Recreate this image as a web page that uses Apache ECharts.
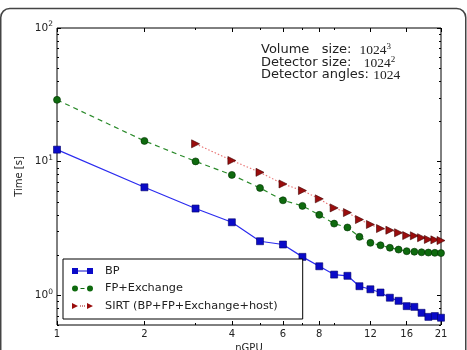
<!DOCTYPE html>
<html>
<head>
<meta charset="utf-8">
<script src="https://cdn.jsdelivr.net/npm/echarts@6/dist/echarts.min.js"></script>
<style>
  html, body { margin: 0; padding: 0; background: #fff; }
  #chart { width: 467px; height: 350px; }
</style>
</head>
<body>
<div id="chart"></div>
<script>
// number of GPUs
const nGPU = [1, 2, 3, 4, 5, 6, 7, 8, 9, 10, 11, 12, 13, 14, 15, 16, 17, 18, 19, 20, 21]
const sirtGPU = [3, 4, 5, 6, 7, 8, 9, 10, 11, 12, 13, 14, 15, 16, 17, 18, 19, 20, 21]
// time [s]
const bpTime = [12.3, 6.43, 4.46, 3.52, 2.54, 2.40, 1.94, 1.65, 1.43, 1.40, 1.17, 1.11, 1.05, 0.96, 0.91, 0.83, 0.82, 0.74, 0.69, 0.70, 0.68]
const fpTime = [29.0, 14.3, 10.05, 7.96, 6.36, 5.14, 4.67, 4.00, 3.44, 3.22, 2.74, 2.47, 2.37, 2.27, 2.20, 2.14, 2.12, 2.10, 2.09, 2.08, 2.07]
const sirtTime = [13.6, 10.2, 8.32, 6.81, 6.08, 5.27, 4.51, 4.16, 3.69, 3.39, 3.16, 3.07, 2.94, 2.80, 2.79, 2.70, 2.62, 2.60, 2.57]
// ticks
const xMajorTicks = [1, 2, 4, 6, 8, 12, 16, 21]
const xMinorTicks = [3, 5, 7, 9]
const yMajorTicks = [1, 10, 100]
const yMinorTicks = [0.6, 0.7, 0.8, 0.9, 2, 3, 4, 5, 6, 7, 8, 9, 20, 30, 40, 50, 60, 70, 80, 90]

const FONT = 'DejaVu Sans'
const pairs = (xs, ys) => xs.map((x, i) => [x, ys[i]])

const xAx = (pos, ticks, len, extra) => Object.assign({
  type: 'log', logBase: 2, min: 1, max: 21, position: pos, gridIndex: 0,
  axisLine: { show: false },
  axisTick: { show: true, inside: true, length: len, customValues: ticks, lineStyle: { color: '#000' } },
  axisLabel: { show: false },
  splitLine: { show: false }
}, extra || {})
const yAx = (pos, ticks, len, extra) => Object.assign({
  type: 'log', logBase: 10, min: 0.6, max: 100, position: pos, gridIndex: 0,
  axisLine: { show: false },
  axisTick: { show: true, inside: true, length: len, customValues: ticks, lineStyle: { color: '#000' } },
  axisLabel: { show: false },
  splitLine: { show: false }
}, extra || {})

const chart = echarts.init(document.getElementById('chart'))

const option = {
  animation: false,
  textStyle: { fontFamily: FONT },
  grid: {
    left: 57, top: 28, right: 26, bottom: 25, outerBoundsMode: 'none', containLabel: false,
    show: true, borderColor: '#000', borderWidth: 1, backgroundColor: '#fff'
  },
  xAxis: [
    xAx('bottom', xMajorTicks, 4, {
      name: 'nGPU', nameLocation: 'middle', nameGap: 16,
      nameTextStyle: { fontSize: 10, color: '#222', fontFamily: FONT },
      axisLabel: {
        show: true, customValues: xMajorTicks, margin: 4, fontSize: 10, color: '#222', fontFamily: FONT,
        formatter: v => String(v)
      }
    }),
    xAx('bottom', xMinorTicks, 2),
    xAx('top', xMajorTicks, 4),
    xAx('top', xMinorTicks, 2)
  ],
  yAxis: [
    yAx('left', yMajorTicks, 4, {
      name: 'Time [s]', nameLocation: 'middle', nameGap: 27, nameRotate: 90,
      nameTextStyle: { fontSize: 10, color: '#222', fontFamily: FONT },
      axisLabel: {
        show: true, customValues: yMajorTicks, margin: 4, color: '#222', fontFamily: FONT,
        formatter: v => '{b|10}{s|' + Math.round(Math.log10(v)) + '}',
        rich: {
          b: { fontSize: 10.5, fontFamily: FONT, color: '#222' },
          s: { fontSize: 7.5, fontFamily: FONT, color: '#222', verticalAlign: 'top', padding: [0, 0, 7, 0] }
        }
      }
    }),
    yAx('left', yMinorTicks, 2),
    yAx('right', yMajorTicks, 4),
    yAx('right', yMinorTicks, 2)
  ],
  legend: {
    orient: 'vertical', left: 63, top: 259,
    backgroundColor: '#fff', borderColor: '#000', borderWidth: 1, borderRadius: 0,
    padding: [5, 25, 6, 9], itemGap: 3.5, itemWidth: 21, itemHeight: 7,
    itemStyle: { borderWidth: 0 },
    textStyle: { fontSize: 11.3, fontFamily: FONT, color: '#222', lineHeight: 14, padding: [0, 0, 0, 7] },
    data: [
      { name: 'BP', icon: 'path://M0,0.5H6V6.5H0Z M6,3H15V4H6Z M15,0.5H21V6.5H15Z' },
      { name: 'FP+Exchange', icon: 'path://M0,3.5A3,3 0 1 1 6,3.5A3,3 0 1 1 0,3.5Z M8.5,3H12.5V4H8.5Z M15,3.5A3,3 0 1 1 21,3.5A3,3 0 1 1 15,3.5Z' },
      { name: 'SIRT (BP+FP+Exchange+host)', icon: 'path://M0,0.5L6,3.5L0,6.5Z M8,3H9V4H8Z M10,3H11V4H10Z M12,3H13V4H12Z M15,0.5L21,3.5L15,6.5Z' }
    ]
  },
  graphic: [
    {
      type: 'rect', silent: true, z: 100,
      shape: { x: 0.75, y: 8.5, width: 465, height: 370, r: 9 },
      style: { fill: 'none', stroke: '#444', lineWidth: 1.5 }
    },
    {
      type: 'group', left: 261, top: 42, z: 50,
      children: [
        { type: 'text', x: 0, y: 0, style: { text: 'Volume   size:  {m|1024}{s|3}', font: '13px "DejaVu Sans"', fill: '#222',
          rich: { m: { fontFamily: 'Liberation Serif', fontSize: 13.5 }, s: { fontFamily: 'Liberation Serif', fontSize: 9, verticalAlign: 'top', padding: [0, 0, 7, 0] } } } },
        { type: 'text', x: 0, y: 13, style: { text: 'Detector size:   {m|1024}{s|2}', font: '13px "DejaVu Sans"', fill: '#222',
          rich: { m: { fontFamily: 'Liberation Serif', fontSize: 13.5 }, s: { fontFamily: 'Liberation Serif', fontSize: 9, verticalAlign: 'top', padding: [0, 0, 7, 0] } } } },
        { type: 'text', x: 0, y: 26, style: { text: 'Detector angles: {m|1024}', font: '13px "DejaVu Sans"', fill: '#222',
          rich: { m: { fontFamily: 'Liberation Serif', fontSize: 13.5 } } } }
      ]
    }
  ],
  series: [
    {
      name: 'BP', type: 'line', data: pairs(nGPU, bpTime),
      symbol: 'rect', symbolSize: 7,
      lineStyle: { color: '#2b2bef', width: 1.2, type: 'solid' },
      itemStyle: { color: '#0a0ac8', borderColor: '#00006a', borderWidth: 0.6 },
      z: 3
    },
    {
      name: 'FP+Exchange', type: 'line', data: pairs(nGPU, fpTime),
      symbol: 'circle', symbolSize: 7,
      lineStyle: { color: '#2a8a2a', width: 1.2, type: [5, 4] },
      itemStyle: { color: '#0e6a0e', borderColor: '#003000', borderWidth: 0.6 },
      z: 3
    },
    {
      name: 'SIRT (BP+FP+Exchange+host)', type: 'line', data: pairs(sirtGPU, sirtTime),
      symbol: 'triangle', symbolRotate: -90, symbolSize: 8,
      lineStyle: { color: '#e87070', width: 1.1, type: [1.5, 2] },
      itemStyle: { color: '#9a0d0d', borderColor: '#400000', borderWidth: 0.6 },
      z: 3
    }
  ]
}
option && chart.setOption(option)
</script>
</body>
</html>
